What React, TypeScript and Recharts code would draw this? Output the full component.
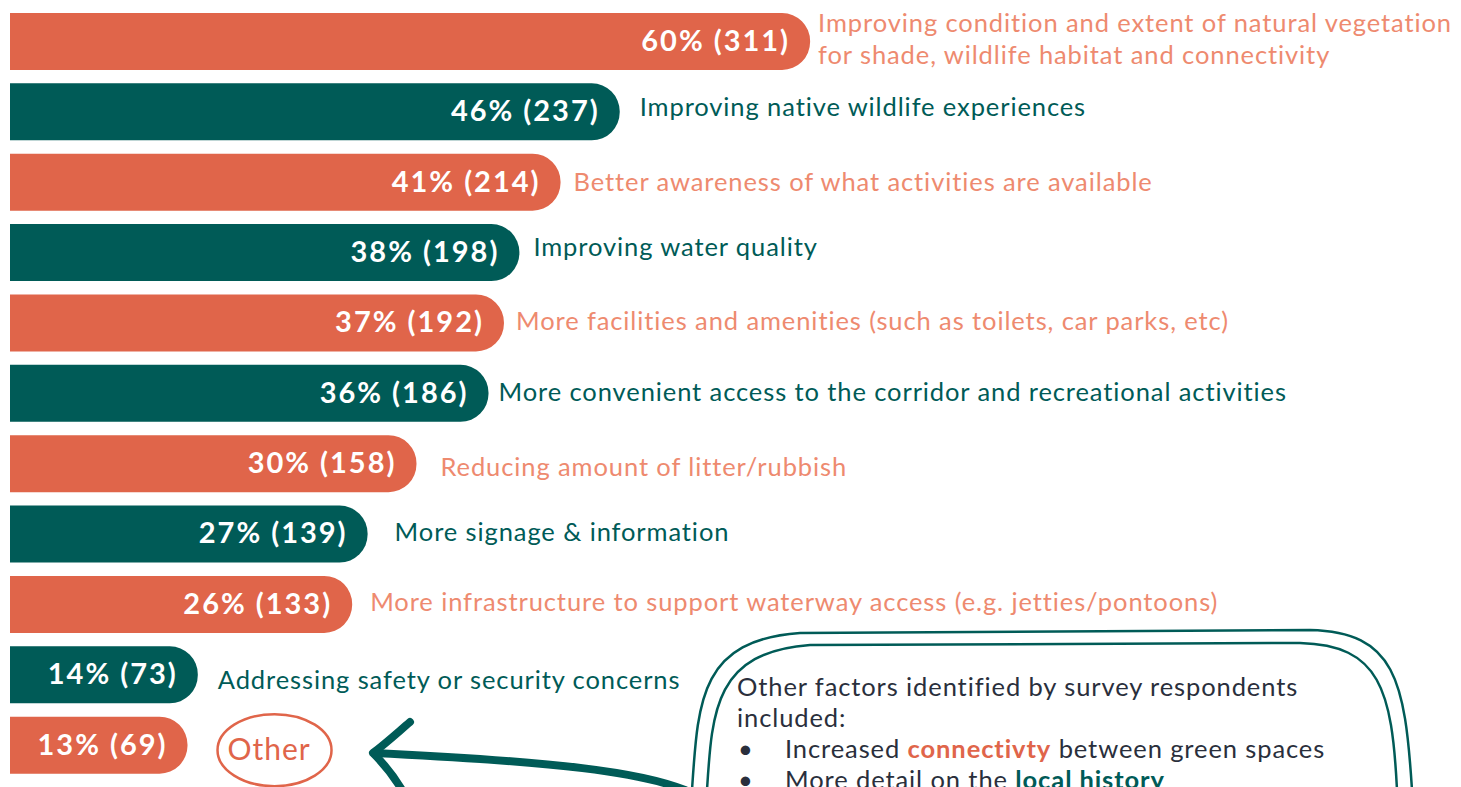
import React from 'react';
import { BarChart, Bar, XAxis, YAxis, Rectangle } from 'recharts';

// survey answers, top to bottom
const categories = [
  'Improving condition and extent of natural vegetation|for shade, wildlife habitat and connectivity',
  'Improving native wildlife experiences',
  'Better awareness of what activities are available',
  'Improving water quality',
  'More facilities and amenities (such as toilets, car parks, etc)',
  'More convenient access to the corridor and recreational activities',
  'Reducing amount of litter/rubbish',
  'More signage & information',
  'More infrastructure to support waterway access (e.g. jetties/pontoons)',
  'Addressing safety or security concerns',
  'Other',
];
const percents = [60, 46, 41, 38, 37, 36, 30, 27, 26, 14, 13];
const counts = [311, 237, 214, 198, 192, 186, 158, 139, 133, 73, 69];

// layout tweaks for the text next to each bar
const labelGap = [8, 20, 13, 14, 12, 10, 24, 27, 18, 20, 30];
const labelShift = [0, -2, 3, -3, 1, 2, 6, 1, 1, 8, 0];

const ORANGE = '#E0654A';
const ORANGE_TEXT = '#EE8A6F';
const TEAL = '#005B57';
const DARK = '#2A2F3C';
const FONT = 'Lato, "Open Sans", sans-serif';

const data = categories.map((name, i) => ({
  name,
  count: counts[i],
  pct: percents[i],
}));

const BarShape = (props: any) => {
  const { x, y, width, height, index } = props;
  const even = index % 2 === 0;
  const fill = even ? ORANGE : TEAL;
  const cy = y + height / 2;
  const name: string = categories[index];
  const lx = x + width + labelGap[index];
  const ly = cy + labelShift[index];
  let label: React.ReactNode;
  if (name === 'Other') {
    label = (
      <g>
        <ellipse cx={lx + 57} cy={cy + 5} rx={57} ry={36} fill="none" stroke={ORANGE} strokeWidth={2.5} />
        <text x={lx + 10} y={cy + 7} dominantBaseline="middle" fontSize={30} letterSpacing={1} fill={ORANGE} fontFamily={FONT}>
          Other
        </text>
      </g>
    );
  } else {
    const lines = name.split('|');
    label = (
      <text fontSize={25.5} letterSpacing={0.9} fill={even ? ORANGE_TEXT : TEAL} fontFamily={FONT} dominantBaseline="middle">
        {lines.map((ln, k) => (
          <tspan key={k} x={lx} y={ly + (k - (lines.length - 1) / 2) * 32}>
            {ln}
          </tspan>
        ))}
      </text>
    );
  }
  return (
    <g>
      <Rectangle x={x} y={y} width={width} height={height} radius={[0, 28, 28, 0]} fill={fill} />
      <text
        x={x + width - 20}
        y={cy + 2}
        textAnchor="end"
        dominantBaseline="middle"
        fontSize={29}
        letterSpacing={2}
        fontWeight={700}
        fill="#fff"
        fontFamily={FONT}
      >
        {`${percents[index]}% (${counts[index]})`}
      </text>
      {label}
    </g>
  );
};

const Overlay = () => (
  <svg width={1461} height={787} style={{ position: 'absolute', left: 0, top: 0, pointerEvents: 'none' }}>
    {/* callout box, double outline */}
    <path d="M 692 790 C 698 700, 700 640, 800 633 L 1310 630 C 1395 632, 1405 680, 1412 790" fill="none" stroke={TEAL} strokeWidth={2.5} />
    <path d="M 707 790 C 712 710, 715 652, 810 645 L 1300 643 C 1380 645, 1392 690, 1397 790" fill="none" stroke={TEAL} strokeWidth={2.5} />
    <g fontFamily={FONT} fontSize={25.5} letterSpacing={0.9} fill={DARK}>
      <text x={737} y={696}>Other factors identified by survey respondents</text>
      <text x={737} y={727}>included:</text>
      <text x={738} y={758}>•</text>
      <text x={785} y={758}>
        Increased <tspan fill={ORANGE} fontWeight={700}>connectivty</tspan> between green spaces
      </text>
      <text x={738} y={789}>•</text>
      <text x={785} y={789}>
        More detail on the <tspan fill={TEAL} fontWeight={700}>local history</tspan>
      </text>
    </g>
    {/* hand drawn arrow */}
    <path d="M 685 790 C 640 772, 560 762, 374 753" fill="none" stroke={TEAL} strokeWidth={8} strokeLinecap="round" />
    <path d="M 410 722 C 396 734, 385 744, 373 753 C 385 765, 395 778, 402 790" fill="none" stroke={TEAL} strokeWidth={8} strokeLinecap="round" strokeLinejoin="round" />
  </svg>
);

export default function App() {
  return (
    <div style={{ position: 'absolute', left: 0, top: 0, width: 1461, height: 787, background: '#fff' }}>
      <BarChart
        width={1461}
        height={787}
        data={data}
        layout="vertical"
        margin={{ top: 6, right: 0, bottom: 7, left: 10 }}
      >
        <XAxis type="number" domain={[0, 564]} hide />
        <YAxis type="category" dataKey="name" hide width={0} />
        <Bar dataKey="count" barSize={57} shape={BarShape} isAnimationActive={false} />
      </BarChart>
      <Overlay />
    </div>
  );
}
